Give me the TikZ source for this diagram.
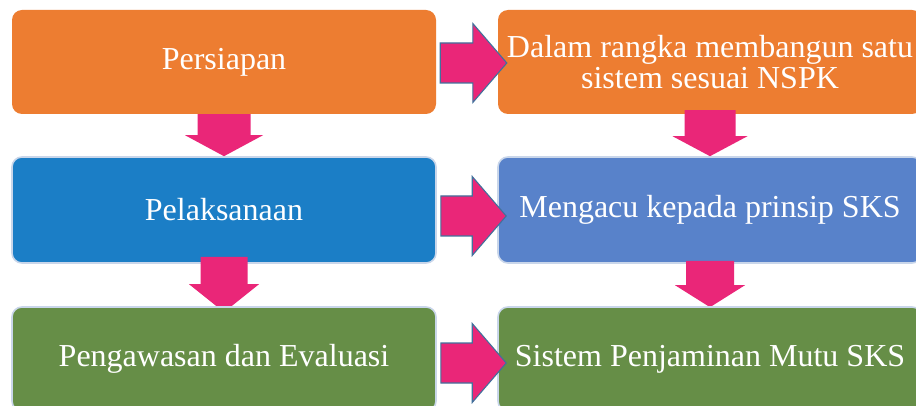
\documentclass[tikz,border=0pt]{standalone}
\usepackage{fontspec}
\setmainfont{Liberation Serif}
\usetikzlibrary{calc}
\pgfdeclarelayer{front}
\pgfdeclarelayer{top}
\pgfsetlayers{main,front,top}
\definecolor{orangec}{HTML}{ED7D31}
\definecolor{bluec}{HTML}{1B7EC6}
\definecolor{periwc}{HTML}{5882CA}
\definecolor{greenc}{HTML}{668E47}
\definecolor{pinkc}{HTML}{EA2678}
\definecolor{edgec}{HTML}{41719C}
\definecolor{rimc}{HTML}{C9D6EA}
\tikzset{
  box/.style={rounded corners=10pt, minimum width=424pt, minimum height=104pt,
    inner sep=0pt, align=center, text=white,
    font=\fontsize{32}{31.5}\selectfont},
  rimmed/.style={draw=rimc, line width=1.6pt},
  downarr/.style={fill=pinkc},
  rightarr/.style={fill=pinkc, draw=edgec, line width=1.1pt, line join=miter},
}
% #1 from, #2 to, #3 shaft half, #4 head half, #5 overlap into upper box, #6 head length, #7 tip below lower top
\newcommand\dnarrow[7]{%
  \path[downarr] let \p1=(#1.south), \p2=(#2.north) in
    (\x1-#3,\y1+#5) -- (\x1+#3,\y1+#5) -- (\x1+#3,\y2-#7+#6) -- (\x1+#4,\y2-#7+#6)
    -- (\x1,\y2-#7) -- (\x1-#4,\y2-#7+#6) -- (\x1-#3,\y2-#7+#6) -- cycle;}
% #1 from, #2 to, #3 vertical offset (down)
\newcommand\rtarrow[3]{%
  \path[rightarr] let \p1=(#1.east), \p2=(#2.west) in
    (\x1+4pt,\y1-#3+20pt) -- (\x2-25pt,\y1-#3+20pt) -- (\x2-25pt,\y1-#3+39.5pt)
    -- (\x2+9pt,\y1-#3) -- (\x2-25pt,\y1-#3-39.5pt) -- (\x2-25pt,\y1-#3-20pt)
    -- (\x1+4pt,\y1-#3-20pt) -- cycle;}
\begin{document}
\begin{tikzpicture}[x=1pt,y=-1pt]
\useasboundingbox (0,0) rectangle (916,406);
\clip (0,0) rectangle (916,406);
\fill[white] (0,0) rectangle (916,406);
% rows 1 and 2
\node[box, fill=orangec] (a) at (224,62) {Persiapan};
\node[box, fill=orangec] (d) at (710,62) {Dalam rangka membangun satu\\sistem sesuai NSPK};
\node[box, rimmed, fill=bluec, minimum height=106pt] (b) at (224,210) {Pelaksanaan};
\node[box, rimmed, fill=periwc, minimum height=106pt] (e) at (710,210) {Mengacu kepada prinsip SKS};
% row 3 (drawn over the down arrows)
\begin{pgfonlayer}{front}
\node[box, rimmed, fill=greenc] (c) at (224,359) {Pengawasan dan Evaluasi};
\node[box, rimmed, fill=greenc] (f) at (710,359) {Sistem Penjaminan Mutu SKS};
\end{pgfonlayer}
% down arrows
\dnarrow{a}{b}{26.5pt}{39pt}{0pt}{21pt}{0pt}
\dnarrow{d}{e}{25.5pt}{37.5pt}{4pt}{20pt}{0pt}
\dnarrow{b}{c}{23.5pt}{35pt}{7pt}{28pt}{6pt}
\dnarrow{e}{f}{24pt}{35pt}{3pt}{22pt}{1pt}
% right arrows
\begin{pgfonlayer}{top}
\rtarrow{a}{d}{1pt}
\rtarrow{b}{e}{6pt}
\rtarrow{c}{f}{4pt}
\end{pgfonlayer}
\end{tikzpicture}
\end{document}
